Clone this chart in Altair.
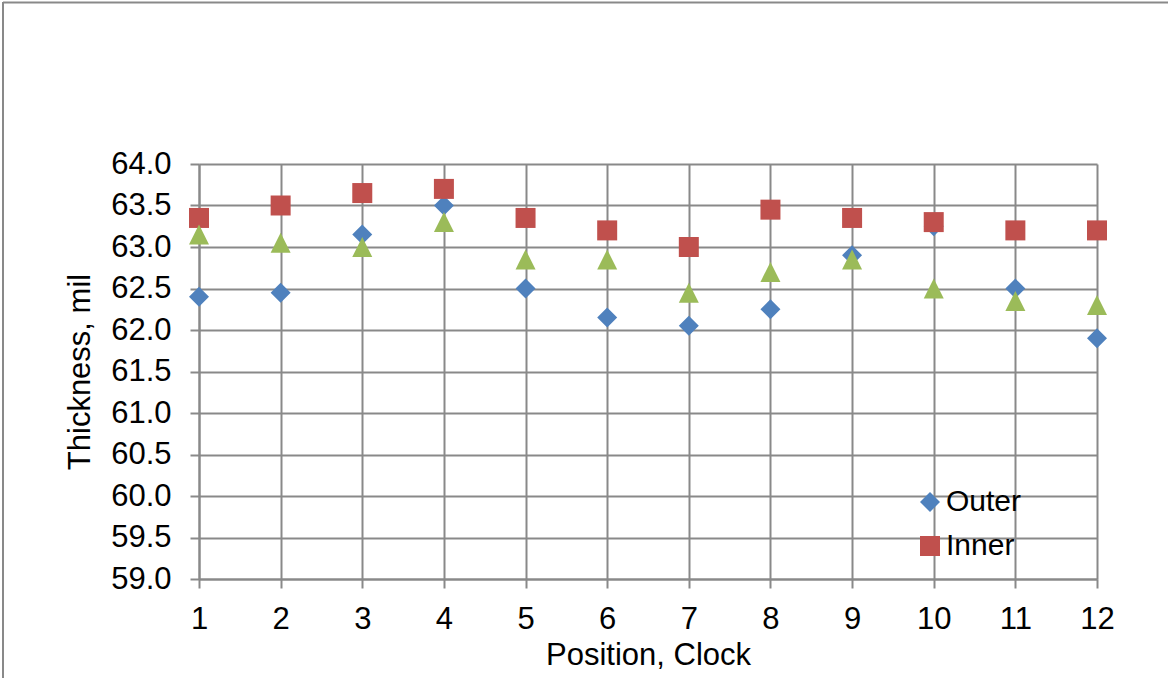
import altair as alt
import pandas as pd

# Wall thickness readings at each clock position
positions = [1, 2, 3, 4, 5, 6, 7, 8, 9, 10, 11, 12]
outer = [62.40, 62.45, 63.15, 63.50, 62.50, 62.15, 62.05, 62.25, 62.90, 63.25, 62.50, 61.90]
inner = [63.35, 63.50, 63.65, 63.70, 63.35, 63.20, 63.00, 63.45, 63.35, 63.30, 63.20, 63.20]
middle = [63.15, 63.05, 63.00, 63.30, 62.85, 62.85, 62.45, 62.70, 62.85, 62.50, 62.35, 62.30]

series_names = ["Outer", "Inner", "Middle"]
series_colors = ["#4F81BD", "#C0504D", "#9BBB59"]
series_shapes = ["diamond", "square", "M0,-1L1,1L-1,1Z"]
legend_entries = ["Outer", "Inner"]

y_ticks = [59.0, 59.5, 60.0, 60.5, 61.0, 61.5, 62.0, 62.5, 63.0, 63.5, 64.0]

rows = []
for name, vals in zip(series_names, [outer, inner, middle]):
    for p, v in zip(positions, vals):
        rows.append({"position": p, "thickness": v, "series": name})
df = pd.DataFrame(rows)

FONT = "Liberation Sans"
GRID = "#898989"
FS = 31


def legend():
    return alt.Legend(
        orient="none", legendX=716, legendY=323, title=None,
        values=legend_entries, labelFontSize=30, labelFont=FONT,
        labelColor="black", symbolSize=400, symbolStrokeWidth=0,
        rowPadding=14, labelOffset=1, padding=0,
    )


points = alt.Chart(df).mark_point(filled=True, opacity=1, size=400).encode(
    x=alt.X(
        "position:Q",
        scale=alt.Scale(domain=[1, 12], nice=False, zero=False),
        axis=alt.Axis(
            values=positions, format="d", title="Position, Clock",
            labelFontSize=FS, titleFontSize=FS, titleFontWeight="normal",
            labelFont=FONT, titleFont=FONT, labelColor="black", titleColor="black",
            tickSize=9, tickColor=GRID, tickWidth=2, domainColor=GRID, domainWidth=2,
            gridColor=GRID, gridWidth=2, labelPadding=16, titlePadding=6,
            labelFlush=False, labelOverlap=False,
        ),
    ),
    y=alt.Y(
        "thickness:Q",
        scale=alt.Scale(domain=[59, 64], nice=False, zero=False),
        axis=alt.Axis(
            values=y_ticks, format=".1f", title="Thickness, mil",
            labelFontSize=FS, titleFontSize=FS, titleFontWeight="normal",
            labelFont=FONT, titleFont=FONT, labelColor="black", titleColor="black",
            tickSize=9, tickColor=GRID, tickWidth=2, domainColor=GRID, domainWidth=2,
            gridColor=GRID, gridWidth=2, labelPadding=19, titlePadding=14,
            labelFlush=False, labelOverlap=False,
        ),
    ),
    color=alt.Color(
        "series:N",
        scale=alt.Scale(domain=series_names, range=series_colors),
        legend=legend(),
    ),
    shape=alt.Shape(
        "series:N",
        scale=alt.Scale(domain=series_names, range=series_shapes),
        legend=legend(),
    ),
    order=alt.Order("series_order:Q"),
).transform_calculate(
    series_order="indexof(['Outer','Inner','Middle'], datum.series)"
)

# Chart-area frame along the top and left edges
frame = alt.Chart(alt.Data(values=[{}])).mark_rule(color=GRID, strokeWidth=2)
frame_top = frame.encode(x=alt.value(-196), x2=alt.value(975), y=alt.value(-161.5))
frame_left = frame.encode(x=alt.value(-196), y=alt.value(-162), y2=alt.value(520))

chart = alt.layer(frame_top, frame_left, points).properties(
    width=898,
    height=415,
    autosize=alt.AutoSizeParams(type="none"),
    padding={"left": 199, "top": 164, "right": 71, "bottom": 99},
    background="white",
).configure_view(stroke=None)

chart.save("out.html", embed_options={"renderer": "svg", "actions": False})
